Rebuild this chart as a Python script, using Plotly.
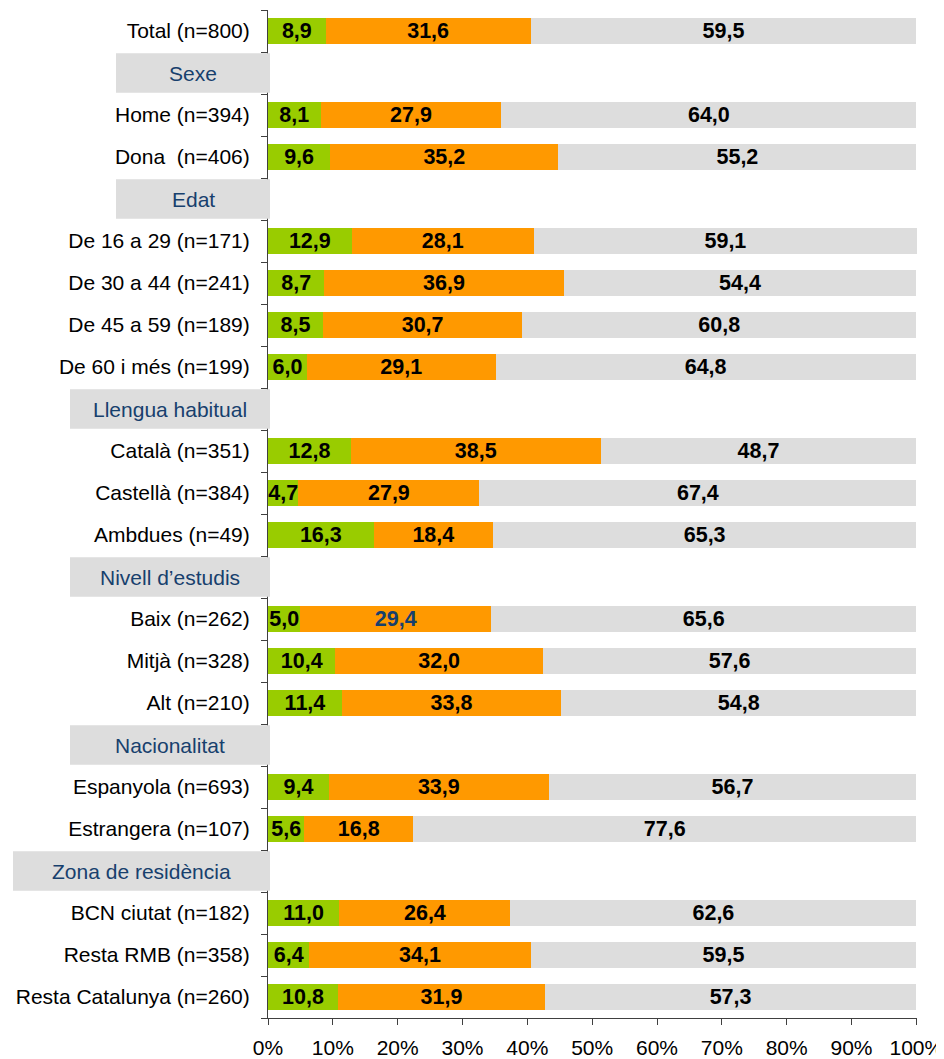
import plotly.graph_objects as go

# ---- data ----
categories = [
    "Total (n=800)", "Sexe", "Home (n=394)", "Dona  (n=406)", "Edat",
    "De 16 a 29 (n=171)", "De 30 a 44 (n=241)", "De 45 a 59 (n=189)", "De 60 i més (n=199)",
    "Llengua habitual", "Català (n=351)", "Castellà (n=384)", "Ambdues (n=49)",
    "Nivell d’estudis", "Baix (n=262)", "Mitjà (n=328)", "Alt (n=210)",
    "Nacionalitat", "Espanyola (n=693)", "Estrangera (n=107)",
    "Zona de residència", "BCN ciutat (n=182)", "Resta RMB (n=358)", "Resta Catalunya (n=260)",
]
headers = ["Sexe", "Edat", "Llengua habitual", "Nivell d’estudis", "Nacionalitat", "Zona de residència"]

green_vals = [8.9, None, 8.1, 9.6, None, 12.9, 8.7, 8.5, 6.0, None, 12.8, 4.7, 16.3,
              None, 5.0, 10.4, 11.4, None, 9.4, 5.6, None, 11.0, 6.4, 10.8]
orange_vals = [31.6, None, 27.9, 35.2, None, 28.1, 36.9, 30.7, 29.1, None, 38.5, 27.9, 18.4,
               None, 29.4, 32.0, 33.8, None, 33.9, 16.8, None, 26.4, 34.1, 31.9]
gray_vals = [59.5, None, 64.0, 55.2, None, 59.1, 54.4, 60.8, 64.8, None, 48.7, 67.4, 65.3,
             None, 65.6, 57.6, 54.8, None, 56.7, 77.6, None, 62.6, 59.5, 57.3]
x_ticks = [0, 10, 20, 30, 40, 50, 60, 70, 80, 90, 100]
x_tick_labels = ["0%", "10%", "20%", "30%", "40%", "50%", "60%", "70%", "80%", "90%", "100%"]

# ---- style ----
FONT = "Liberation Sans, Arial, sans-serif"
FS = 21
FS_BAR = 21.5
PAGE_OFF = 8                      # default body margin of the html page
W, H = 944 - PAGE_OFF, 1059 - PAGE_OFF
ML, MR, MT, MB = 260, 27, 2, 41
PLOT_W = W - ML - MR
header_left_px = {"Sexe": 108, "Edat": 108, "Llengua habitual": 62, "Nivell d’estudis": 62,
                  "Nacionalitat": 62, "Zona de residència": 5}
HEADER_RIGHT_PX = 262
BLUE = "#17406D"


def fmt(v):
    return "" if v is None else f"{v:.1f}".replace(".", ",")


def text_colors(vals, special=None):
    return [BLUE if (special is not None and i == special) else "black" for i in range(len(vals))]


fig = go.Figure()
series = [
    (green_vals, "#99CC00", None),
    (orange_vals, "#FF9900", categories.index("Baix (n=262)")),
    (gray_vals, "#DDDDDD", None),
]
for vals, color, special in series:
    fig.add_trace(go.Bar(
        y=categories, x=vals, orientation="h",
        marker=dict(color=color, line=dict(width=0)),
        text=[fmt(v) for v in vals], textposition="inside",
        insidetextanchor="middle", textangle=0, constraintext="none",
        textfont=dict(family=FONT, size=FS_BAR, color=text_colors(vals, special), weight="bold"),
        cliponaxis=False, hoverinfo="skip", showlegend=False,
    ))

shapes = []
annotations = []
for h in headers:
    idx = categories.index(h)
    x0 = (header_left_px[h] - ML) / PLOT_W
    x1 = (HEADER_RIGHT_PX - ML) / PLOT_W
    shapes.append(dict(type="rect", xref="paper", yref="y", x0=x0, x1=x1,
                       y0=idx - 0.47, y1=idx + 0.47, fillcolor="#DDDDDD",
                       line=dict(width=0), layer="above"))
    annotations.append(dict(xref="paper", yref="y", x=(x0 + x1) / 2, y=idx, text=h,
                            showarrow=False, xanchor="center", yanchor="middle",
                            font=dict(family=FONT, size=FS, color=BLUE)))

y_tick_text = ["" if c in headers else c for c in categories]

fig.update_layout(
    barmode="stack", bargap=0.4,
    width=W, height=H,
    margin=dict(l=ML, r=MR, t=MT, b=MB, autoexpand=False),
    paper_bgcolor="white", plot_bgcolor="white",
    font=dict(family=FONT, size=FS, color="black"),
    shapes=shapes, annotations=annotations,
)
fig.update_xaxes(
    range=[0, 100.1], tickmode="array", tickvals=x_ticks, ticktext=x_tick_labels,
    automargin=False,
    showgrid=False, zeroline=False, showline=True, linecolor="#404040", linewidth=1,
    ticks="outside", ticklen=6, tickcolor="#404040", ticklabelstandoff=5,
    tickfont=dict(family=FONT, size=FS, color="black"),
)
fig.update_yaxes(
    type="category", categoryorder="array", categoryarray=categories,
    tickmode="array", tickvals=categories, ticktext=y_tick_text,
    autorange="reversed", automargin=False,
    showgrid=False, zeroline=False, showline=True, linecolor="#404040", linewidth=1,
    ticks="outside", ticklen=6, tickcolor="#404040", tickson="boundaries",
    ticklabelstandoff=13,
    tickfont=dict(family=FONT, size=FS, color="black"),
)

fig.write_html("out.html")
